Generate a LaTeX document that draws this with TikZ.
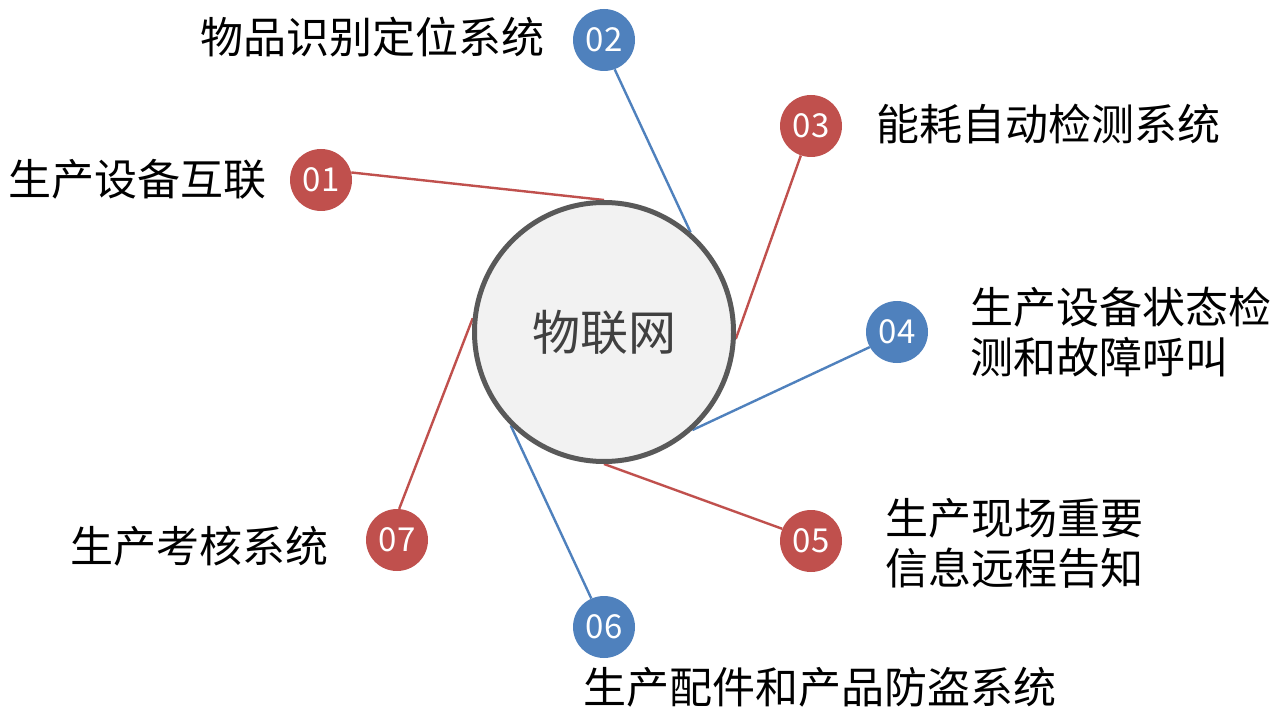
\documentclass[tikz,border=0pt]{standalone}
\usepackage{fontspec}
\setmainfont{Noto Sans CJK SC}
\definecolor{cred}{HTML}{C0504D}
\definecolor{cblue}{HTML}{4F81BD}
\definecolor{cborder}{HTML}{595959}
\definecolor{cfill}{HTML}{F2F2F2}
\definecolor{ctext}{HTML}{404040}
\tikzset{
  num/.style={circle, minimum size=62pt, inner sep=0pt, text=white, font=\fontsize{33}{38}\selectfont},
  rednum/.style={num, fill=cred},
  bluenum/.style={num, fill=cblue},
  lbl/.style={inner sep=0pt, text=black, font=\fontsize{43}{50}\selectfont, align=left},
  redline/.style={draw=cred, line width=2.4pt},
  blueline/.style={draw=cblue, line width=2.4pt},
}
\begin{document}
\begin{tikzpicture}[x=1pt,y=-1pt]
\useasboundingbox[fill=white] (0,0) rectangle (1274,711);
% connectors (drawn first)
\node[circle, minimum size=259pt, inner sep=0pt, line width=5pt] (c) at (604,332) {};
\node[rednum] (n1) at (321,180) {01};
\node[bluenum] (n2) at (604,40) {02};
\node[rednum] (n3) at (811,126) {03};
\node[bluenum] (n4) at (897,332) {04};
\node[rednum] (n5) at (811,541) {05};
\node[bluenum] (n6) at (604,627) {06};
\node[rednum] (n7) at (397,540) {07};
\draw[redline] (n1.14) -- (c.90);
\draw[blueline] (n2.-70) -- (c.49);
\draw[redline] (n3.-109) -- (c.-3);
\draw[blueline] (n4.209) -- (c.-48);
\draw[redline] (n5.157) -- (c.-90);
\draw[blueline] (n6.114) -- (c.-135);
\draw[redline] (n7.86) -- (c.174);
% centre circle
\node[circle, minimum size=259pt, inner sep=0pt, line width=5pt, draw=cborder, fill=cfill, text=ctext, font=\fontsize{48}{56}\selectfont] (cc) at (604,332) {物联网};
% labels
\node[lbl, anchor=east] (l1) at (267,179) {生产设备互联};
\node[lbl, anchor=east] (l2) at (545,37) {物品识别定位系统};
\node[lbl, anchor=west] (l3) at (876,124) {能耗自动检测系统};
\node[lbl, anchor=west] (l4) at (970,332) {生产设备状态检\\测和故障呼叫};
\node[lbl, anchor=west] (l5) at (885,543) {生产现场重要\\信息远程告知};
\node[lbl, anchor=west] (l6) at (583,687) {生产配件和产品防盗系统};
\node[lbl, anchor=east] (l7) at (329,546) {生产考核系统};
\end{tikzpicture}
\end{document}
